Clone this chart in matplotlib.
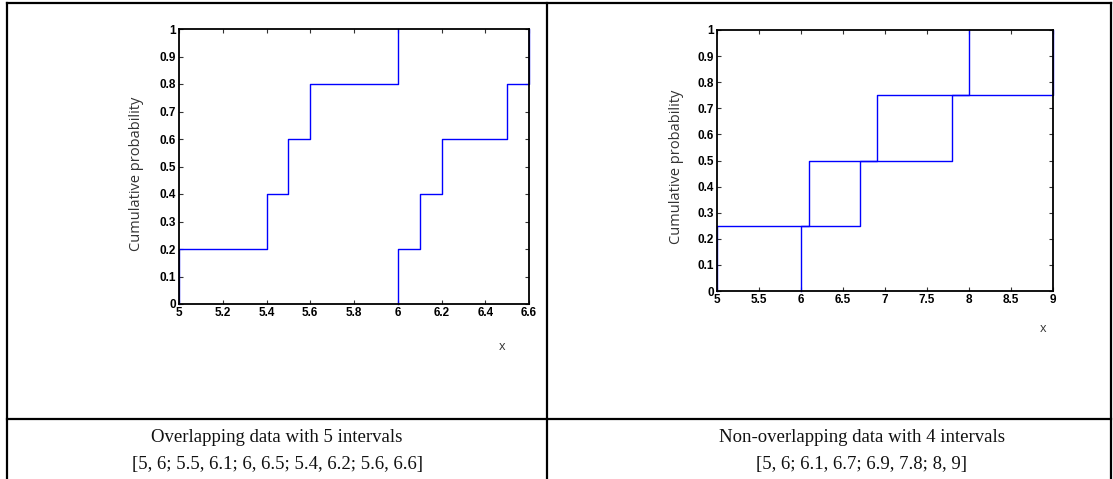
import matplotlib
matplotlib.use("Agg")
import matplotlib.pyplot as plt
from matplotlib.lines import Line2D
import numpy as np

W, H = 1113, 479

# ---- data ----
left_lower = [5.0, 5.4, 5.5, 5.6, 6.0]
left_upper = [6.0, 6.1, 6.2, 6.5, 6.6]
left_cum = [0.2, 0.4, 0.6, 0.8, 1.0]
left_xticks = [5.0, 5.2, 5.4, 5.6, 5.8, 6.0, 6.2, 6.4, 6.6]
left_xticklabels = ["5", "5.2", "5.4", "5.6", "5.8", "6", "6.2", "6.4", "6.6"]

right_lower = [5.0, 6.1, 6.9, 8.0]
right_upper = [6.0, 6.7, 7.8, 9.0]
right_cum = [0.25, 0.5, 0.75, 1.0]
right_xticks = [5.0, 5.5, 6.0, 6.5, 7.0, 7.5, 8.0, 8.5, 9.0]
right_xticklabels = ["5", "5.5", "6", "6.5", "7", "7.5", "8", "8.5", "9"]

yticks = [0.0, 0.1, 0.2, 0.3, 0.4, 0.5, 0.6, 0.7, 0.8, 0.9, 1.0]
yticklabels = ["0", "0.1", "0.2", "0.3", "0.4", "0.5", "0.6", "0.7", "0.8", "0.9", "1"]

captions_left = ["Overlapping data with 5 intervals",
                 "[5, 6; 5.5, 6.1; 6, 6.5; 5.4, 6.2; 5.6, 6.6]"]
captions_right = ["Non-overlapping data with 4 intervals",
                  "[5, 6; 6.1, 6.7; 6.9, 7.8; 8, 9]"]

fig = plt.figure(figsize=(W / 100, H / 100), dpi=100)
fig.patch.set_facecolor("white")


def px_axes(x0, y0, x1, y1):
    return fig.add_axes([x0 / W, 1 - y1 / H, (x1 - x0) / W, (y1 - y0) / H])


def style(ax, xlim, xticks, xlabels):
    ax.set_xlim(*xlim)
    ax.set_ylim(0, 1)
    ax.set_xticks(xticks)
    ax.set_xticklabels(xlabels)
    ax.set_yticks(yticks)
    ax.set_yticklabels(yticklabels)
    ax.tick_params(direction="in", length=3, width=0.8, top=True, right=True,
                   labelsize=8.5, pad=2, color="#333333")
    for lab in ax.get_xticklabels() + ax.get_yticklabels():
        lab.set_fontweight("bold")
        lab.set_family("Liberation Sans")
    for s in ax.spines.values():
        s.set_linewidth(1.3)
        s.set_color("black")


def draw_steps(ax, xs, cum):
    x = [xs[0]] + list(xs)
    y = [0.0] + list(cum)
    ax.step(x, y, where="post", color="#0000ff", lw=1.0, clip_on=False)


axL = px_axes(179, 29, 529, 304)
draw_steps(axL, left_lower, left_cum)
draw_steps(axL, left_upper, left_cum)
style(axL, (5, 6.6), left_xticks, left_xticklabels)

axR = px_axes(717, 30, 1053, 291)
draw_steps(axR, right_lower, right_cum)
draw_steps(axR, right_upper, right_cum)
style(axR, (5, 9), right_xticks, right_xticklabels)


def ftext(x, y, s, **kw):
    fig.text(x / W, 1 - y / H, s, **kw)


ftext(137, 174, "Cumulative probability", rotation=90, ha="center", va="center",
      fontsize=10.5, family="Open Sans", color="#333333")
ftext(676, 167, "Cumulative probability", rotation=90, ha="center", va="center",
      fontsize=10.5, family="Open Sans", color="#333333")
ftext(502, 346, "x", ha="center", va="center", fontsize=9, family="Open Sans", color="#333333")
ftext(1043, 329, "x", ha="center", va="center", fontsize=9, family="Open Sans", color="#333333")

# table lines
def fline(x0, y0, x1, y1):
    fig.add_artist(Line2D([x0 / W, x1 / W], [1 - y0 / H, 1 - y1 / H],
                          transform=fig.transFigure, color="black", lw=1.6))

fline(7, 3, 1111, 3)
fline(7, 3, 7, 479)
fline(1111, 3, 1111, 479)
fline(547, 3, 547, 479)
fline(7, 419, 1111, 419)

ftext(277, 438, captions_left[0], ha="center", va="center", fontsize=13.5,
      family="Liberation Serif", color="#111111")
ftext(277, 464, captions_left[1], ha="center", va="center", fontsize=13.5,
      family="Liberation Serif", color="#111111")
ftext(862, 438, captions_right[0], ha="center", va="center", fontsize=13.5,
      family="Liberation Serif", color="#111111")
ftext(862, 464, captions_right[1], ha="center", va="center", fontsize=13.5,
      family="Liberation Serif", color="#111111")

fig.savefig("out.png", dpi=100, facecolor="white")
